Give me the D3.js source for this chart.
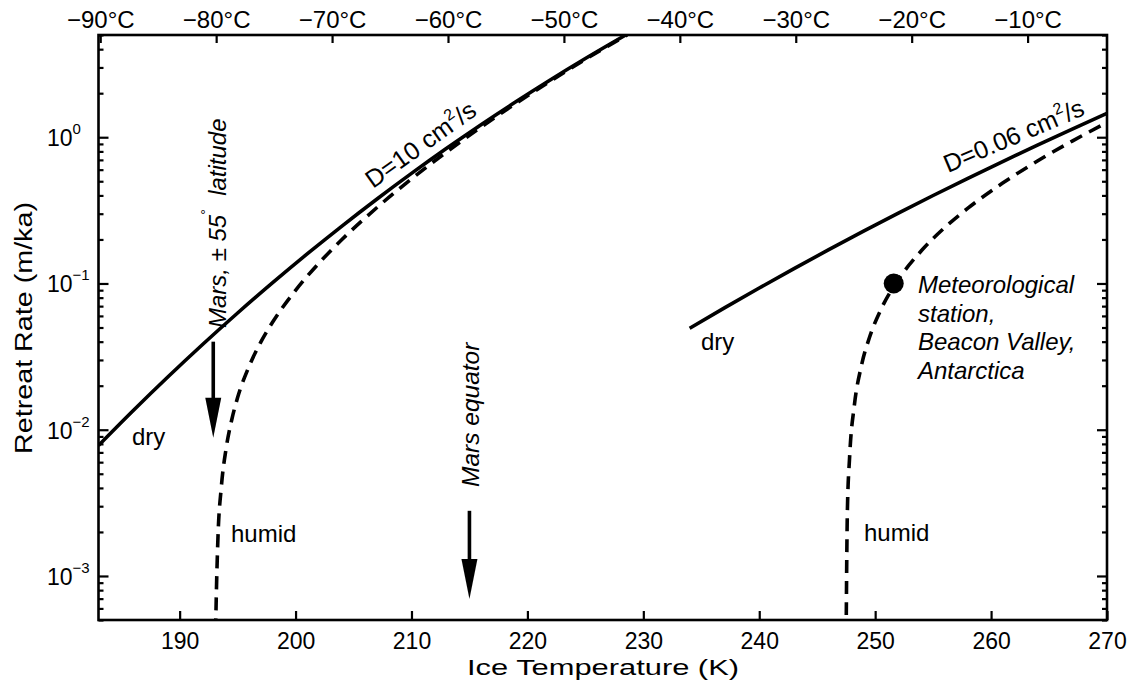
<!DOCTYPE html>
<html>
<head>
<meta charset="utf-8">
<script src="https://cdn.jsdelivr.net/npm/d3@7"></script>
<style>
  body { margin: 0; background: #fff; }
  svg { font-family: "Liberation Sans", Arial, Helvetica, sans-serif; }
</style>
</head>
<body>
<svg width="1134" height="684"></svg>
<script>
// D = 10 cm2/s, dry air
var tempDry10 = [183, 186, 189, 192, 195, 198, 201, 204, 207, 210, 213, 216, 219, 222, 225, 228.6];
var rateDry10 = [0.0078, 0.01353, 0.02301, 0.03839, 0.0628, 0.1008, 0.1592, 0.247, 0.3768, 0.5657, 0.8366, 1.2182, 1.7477, 2.4721, 3.45, 5.06];

// D = 10 cm2/s, humid air
var tempHumid10 = [193.07, 193.15, 193.3, 193.6, 194, 194.5, 195, 196, 197, 198, 200, 202, 204, 207, 210, 213, 216, 219, 222, 225, 228.6];
var rateHumid10 = [0.0003, 0.00066, 0.00178, 0.00409, 0.00736, 0.01175, 0.01658, 0.02724, 0.0397, 0.05405, 0.0898, 0.1373, 0.1996, 0.3294, 0.5185, 0.7896, 1.1718, 1.702, 2.4273, 3.4064, 5.01];

// D = 0.06 cm2/s, dry air
var tempDry006 = [234, 237, 240, 243, 246, 249, 252, 255, 258, 261, 264, 267, 270];
var rateDry006 = [0.04935, 0.06805, 0.0931, 0.1264, 0.1703, 0.2278, 0.3027, 0.3995, 0.5236, 0.6823, 0.8837, 1.1379, 1.4569];

// D = 0.06 cm2/s, humid air
var tempHumid006 = [247.47, 247.6, 247.8, 248.2, 248.8, 249.5, 250.5, 252, 254, 256, 258, 261, 264, 267, 270];
var rateHumid006 = [0.0002, 0.00269, 0.00659, 0.01456, 0.02711, 0.04255, 0.06647, 0.1063, 0.1679, 0.2411, 0.3272, 0.4859, 0.6873, 0.9415, 1.2602];

// Beacon Valley station
var stationTemp = [251.6];
var stationRate = [0.1];

// Mars arrows: temperature, arrow tail rate, arrow tip rate
var arrowTemp = [192.9, 215.0];
var arrowFrom = [0.040, 0.00279];
var arrowTo = [0.00883, 0.000697];

var kelvinTicks = [190, 200, 210, 220, 230, 240, 250, 260, 270];
var celsiusTicks = [-90, -80, -70, -60, -50, -40, -30, -20, -10];
var decadeTicks = [1e-3, 1e-2, 1e-1, 1];
var decadeExp = ["\u22123", "\u22122", "\u22121", "0"];

var plotLeft = 98.5, plotRight = 1107, plotTop = 35, plotBottom = 620;

var svg = d3.select("svg");

var x = d3.scaleLinear().domain([183, 270]).range([plotLeft, plotRight]);
var xC = d3.scaleLinear().domain([183 - 273.15, 270 - 273.15]).range([plotLeft, plotRight]);
var y = d3.scaleLog().domain([5e-4, 5]).range([plotBottom, plotTop]);

svg.append("defs").append("clipPath").attr("id", "plot")
  .append("rect")
    .attr("x", plotLeft).attr("y", plotTop)
    .attr("width", plotRight - plotLeft).attr("height", plotBottom - plotTop);

function styleAxis(g, size) {
  g.select(".domain").remove();
  g.attr("font-family", null);
  g.selectAll(".tick line").attr("stroke", "#000").attr("stroke-width", 2.2);
  g.selectAll("text").attr("font-size", size).attr("fill", "#000");
}

// bottom axis (K)
svg.append("g")
    .attr("transform", "translate(0," + plotBottom + ")")
    .call(d3.axisBottom(x).tickValues(kelvinTicks).tickSizeInner(-9).tickSizeOuter(0).tickPadding(13))
    .call(styleAxis, 23);

// top axis (°C)
svg.append("g")
    .attr("transform", "translate(0," + plotTop + ")")
    .call(d3.axisTop(xC).tickValues(celsiusTicks).tickSizeInner(-8).tickSizeOuter(0).tickPadding(7)
      .tickFormat(function(d) { return "\u2212" + Math.abs(d) + "\u00b0C"; }))
    .call(styleAxis, 24);

// y minor ticks
var minorTicks = y.ticks().filter(function(d) {
  return Math.abs(Math.log10(d) - Math.round(Math.log10(d))) > 1e-6;
});

[[d3.axisLeft, plotLeft], [d3.axisRight, plotRight]].forEach(function(a) {
  svg.append("g")
      .attr("transform", "translate(" + a[1] + ",0)")
      .call(a[0](y).tickValues(minorTicks).tickSizeInner(-5).tickSizeOuter(0).tickFormat(""))
      .call(styleAxis, 0);
  svg.append("g")
      .attr("transform", "translate(" + a[1] + ",0)")
      .call(a[0](y).tickValues(decadeTicks).tickSizeInner(-10).tickSizeOuter(0).tickFormat(""))
      .call(styleAxis, 0);
});

// y tick labels 10^n
var yLab = svg.append("g").selectAll("text")
    .data(decadeTicks)
  .enter().append("text")
    .attr("x", 47)
    .attr("y", function(d) { return y(d) + 9; })
    .attr("font-size", 23);
yLab.append("tspan").text("10");
yLab.append("tspan")
    .attr("font-size", 15)
    .attr("dy", -12)
    .text(function(d, i) { return decadeExp[i]; });

// frame
svg.append("rect")
    .attr("x", plotLeft).attr("y", plotTop)
    .attr("width", plotRight - plotLeft).attr("height", plotBottom - plotTop)
    .attr("fill", "none").attr("stroke", "#000").attr("stroke-width", 2.6);

// axis titles
svg.append("text")
    .attr("x", 603).attr("y", 675)
    .attr("text-anchor", "middle").attr("font-size", 22)
    .attr("textLength", 272).attr("lengthAdjust", "spacingAndGlyphs")
    .text("Ice Temperature (K)");

svg.append("text")
    .attr("transform", "translate(32,328) rotate(-90)")
    .attr("text-anchor", "middle").attr("font-size", 23)
    .attr("textLength", 252).attr("lengthAdjust", "spacingAndGlyphs")
    .text("Retreat Rate (m/ka)");

// curves
var line = d3.line()
    .x(function(d) { return x(d[0]); })
    .y(function(d) { return y(d[1]); })
    .curve(d3.curveMonotoneX);

var curves = [
  { t: tempDry10, r: rateDry10, dash: null },
  { t: tempHumid10, r: rateHumid10, dash: "13,8" },
  { t: tempDry006, r: rateDry006, dash: null },
  { t: tempHumid006, r: rateHumid006, dash: "13,8" }
];

var plot = svg.append("g").attr("clip-path", "url(#plot)");

plot.selectAll("path.curve")
    .data(curves)
  .enter().append("path")
    .attr("class", "curve")
    .attr("d", function(c) { return line(d3.zip(c.t, c.r)); })
    .attr("fill", "none")
    .attr("stroke", "#000")
    .attr("stroke-width", 3.6)
    .attr("stroke-dasharray", function(c) { return c.dash; });

plot.selectAll("circle")
    .data(d3.zip(stationTemp, stationRate))
  .enter().append("circle")
    .attr("cx", function(d) { return x(d[0]); })
    .attr("cy", function(d) { return y(d[1]); })
    .attr("r", 10)
    .attr("fill", "#000");

// arrows
arrowTemp.forEach(function(t, i) {
  var ax = x(t), y0 = y(arrowFrom[i]), y1 = y(arrowTo[i]);
  svg.append("line")
      .attr("x1", ax).attr("x2", ax)
      .attr("y1", y0).attr("y2", y1 - 30)
      .attr("stroke", "#000").attr("stroke-width", 3.6);
  svg.append("path")
      .attr("d", "M" + (ax - 8) + "," + (y1 - 40) + "L" + (ax + 8) + "," + (y1 - 40) + "L" + ax + "," + y1 + "Z")
      .attr("fill", "#000");
});

// annotations
function label(px, py, txt, italic) {
  return svg.append("text")
      .attr("x", px).attr("y", py)
      .attr("font-size", 24)
      .attr("font-style", italic ? "italic" : null)
      .text(txt);
}

label(132, 445, "dry");
label(231, 542, "humid");
label(701, 350, "dry");
label(864, 541, "humid");

["Meteorological", "station,", "Beacon Valley,", "Antarctica"].forEach(function(s, i) {
  label(918, 293 + i * 28.5, s, true);
});

var m55 = svg.append("text")
    .attr("transform", "translate(226,328) rotate(-90)")
    .attr("font-size", 24)
    .attr("font-style", "italic")
    .style("white-space", "pre");
m55.append("tspan").text("Mars, ");
m55.append("tspan").attr("font-style", "normal").text("\u00b1");
m55.append("tspan").text(" 55");
m55.append("tspan").attr("font-size", 14).attr("font-style", "normal").attr("dy", -15).text("\u00b0");
m55.append("tspan").attr("dy", 15).text("  latitude");

svg.append("text")
    .attr("transform", "translate(479,487) rotate(-90)")
    .attr("font-size", 24.5)
    .attr("font-style", "italic")
    .text("Mars equator");

function dLabel(px, py, ang, txt) {
  var t = svg.append("text")
      .attr("transform", "translate(" + px + "," + py + ") rotate(" + ang + ")")
      .attr("font-size", 25);
  t.append("tspan").text(txt);
  t.append("tspan").attr("font-size", 16).attr("dy", -11).text("2");
  t.append("tspan").attr("dy", 11).text("/s");
}

dLabel(373, 189, -35.5, "D=10 cm");
dLabel(948, 173, -23, "D=0.06 cm");
</script>
</body>
</html>
